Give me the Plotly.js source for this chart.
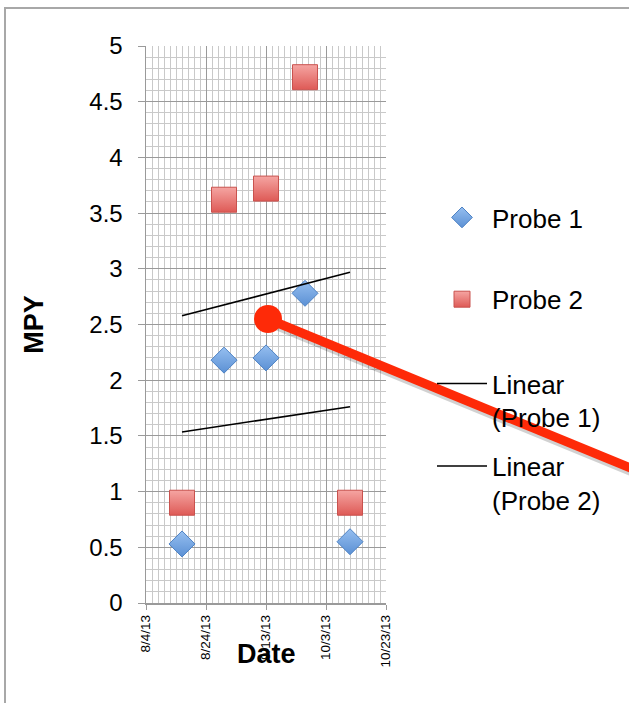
<!DOCTYPE html>
<html>
<head>
<meta charset="utf-8">
<script src="https://cdn.plot.ly/plotly-3.0.1.min.js"></script>
<style>
  html, body { margin: 0; padding: 0; background: #ffffff; }
  #chart { width: 629px; height: 703px; }
</style>
</head>
<body>
<div id="chart"></div>
<script>
// ---- data ----
const sampleDates = ['2013-08-16', '2013-08-30', '2013-09-13', '2013-09-26', '2013-10-11'];
const probe1 = [0.53, 2.18, 2.20, 2.78, 0.55];
const probe2 = [0.90, 3.62, 3.72, 4.72, 0.90];
const xTickVals = ['2013-08-04', '2013-08-24', '2013-09-13', '2013-10-03', '2013-10-23'];
const xTickText = ['8/4/13', '8/24/13', '9/13/13', '10/3/13', '10/23/13'];
const yTickVals = [0, 0.5, 1, 1.5, 2, 2.5, 3, 3.5, 4, 4.5, 5];
const yTickText = ['0', '0.5', '1', '1.5', '2', '2.5', '3', '3.5', '4', '4.5', '5'];
const seriesNames = ['Probe 1', 'Probe 2', 'Linear<br>(Probe 1)', 'Linear<br>(Probe 2)'];
const xTitle = 'Date';
const yTitle = 'MPY';

// ---- least-squares trendline (as the original chart's linear trendline) ----
function linearFit(dates, vals) {
  const xs = dates.map(d => new Date(d + 'T00:00:00Z').getTime());
  const n = xs.length;
  const mx = xs.reduce((a, b) => a + b, 0) / n;
  const my = vals.reduce((a, b) => a + b, 0) / n;
  let sxy = 0, sxx = 0;
  for (let i = 0; i < n; i++) { sxy += (xs[i] - mx) * (vals[i] - my); sxx += (xs[i] - mx) * (xs[i] - mx); }
  const slope = sxy / sxx;
  const ends = [dates[0], dates[n - 1]];
  return { x: ends, y: ends.map(d => my + slope * (new Date(d + 'T00:00:00Z').getTime() - mx)) };
}
const fit1 = linearFit(sampleDates, probe1);
const fit2 = linearFit(sampleDates, probe2);

// ---- layout geometry ----
const W = 629, H = 703, ML = 146, MR = 243, MT = 46, MB = 100;
const PW = W - ML - MR, PH = H - MT - MB;
const px = x => (x - ML) / PW;
const py = y => (H - MB - y) / PH;

const FONT = 'Liberation Sans, Arial, Helvetica, sans-serif';
const redCol = '#fe2a08';

const traces = [
  {
    type: 'scatter', mode: 'markers', name: seriesNames[0],
    x: sampleDates, y: probe1, legend: 'legend', legendgroup: 'a',
    marker: { symbol: 'diamond', size: 20, color: '#96bff0',
              gradient: { type: 'vertical', color: '#5b90d4' },
              line: { color: '#4d82c4', width: 1 } }
  },
  {
    type: 'scatter', mode: 'markers', name: seriesNames[1],
    x: sampleDates, y: probe2, legend: 'legend', legendgroup: 'b',
    marker: { symbol: 'square', size: 25, color: '#f5a5a2',
              gradient: { type: 'vertical', color: '#de5a56' },
              line: { color: '#c9524e', width: 1 } }
  },
  {
    type: 'scatter', mode: 'lines', name: seriesNames[2],
    x: fit1.x, y: fit1.y, legend: 'legend2', legendgroup: 'c',
    line: { color: '#000000', width: 1.5 }
  },
  {
    type: 'scatter', mode: 'lines', name: seriesNames[3],
    x: fit2.x, y: fit2.y, legend: 'legend2', legendgroup: 'd',
    line: { color: '#000000', width: 1.5 }
  }
];

const legendCommon = {
  xanchor: 'left', yanchor: 'top', traceorder: 'grouped',
  font: { family: FONT, size: 26, color: '#000000' },
  bgcolor: 'rgba(0,0,0,0)', borderwidth: 0, itemwidth: 50, valign: 'top'
};

const layout = {
  width: W, height: H,
  margin: { l: ML, r: MR, t: MT, b: MB, pad: 0 },
  paper_bgcolor: '#ffffff', plot_bgcolor: '#ffffff',
  font: { family: FONT, color: '#000000' },
  showlegend: true,
  legend: Object.assign({}, legendCommon, { x: px(432), y: py(194), tracegroupgap: 45 }),
  legend2: Object.assign({}, legendCommon, { x: px(432), y: py(360), tracegroupgap: 12 }),
  xaxis: {
    type: 'date',
    range: [xTickVals[0], xTickVals[xTickVals.length - 1]],
    tickmode: 'array', tickvals: xTickVals, ticktext: xTickText,
    tickangle: -90, tickfont: { family: FONT, size: 13.5, color: '#000000' },
    ticks: 'outside', ticklen: 5, tickcolor: '#9a9a9a',
    showline: true, linecolor: '#9a9a9a', linewidth: 1.5,
    showgrid: true, gridcolor: '#9a9a9a', gridwidth: 1,
    minor: { dtick: 2 * 86400000, tick0: xTickVals[0], showgrid: true, gridcolor: '#c9c9c9', gridwidth: 1 },
    zeroline: false, fixedrange: true
  },
  yaxis: {
    range: [0, 5],
    tickmode: 'array', tickvals: yTickVals, ticktext: yTickText,
    tickfont: { family: FONT, size: 24, color: '#000000' },
    ticks: 'outside', ticklen: 7, tickcolor: '#9a9a9a', ticklabelstandoff: 10,
    showline: true, linecolor: '#9a9a9a', linewidth: 1.5,
    showgrid: true, gridcolor: '#9a9a9a', gridwidth: 1,
    minor: { dtick: 0.1, showgrid: true, gridcolor: '#c9c9c9', gridwidth: 1 },
    zeroline: false, fixedrange: true,
    title: { text: '<b>' + yTitle + '</b>', standoff: 38, font: { family: FONT, size: 27, color: '#000000' } }
  },
  annotations: [
    // x-axis title sits over the rotated date labels, as in the reference
    { xref: 'paper', yref: 'paper', x: 0.5, y: py(654), xanchor: 'center', yanchor: 'middle',
      showarrow: false, text: '<b>' + xTitle + '</b>', font: { family: FONT, size: 27, color: '#000000' } }
  ],
  shapes: [
    // outer frame of the screenshot (left and top edges visible)
    { type: 'line', xref: 'paper', yref: 'paper', x0: px(5), x1: px(5), y0: py(7), y1: py(720),
      line: { color: '#a8a8a8', width: 2 } },
    { type: 'line', xref: 'paper', yref: 'paper', x0: px(4), x1: px(640), y0: py(8), y1: py(8),
      line: { color: '#a8a8a8', width: 2 } },
    // red pointer shadow
    { type: 'line', xref: 'paper', yref: 'paper', x0: px(270), y0: py(322), x1: px(642), y1: py(475),
      line: { color: 'rgba(0,0,0,0.18)', width: 11 } },
    // red pointer
    { type: 'line', xref: 'paper', yref: 'paper', x0: px(268), y0: py(319), x1: px(640), y1: py(472),
      line: { color: redCol, width: 9 } },
    { type: 'circle', xref: 'paper', yref: 'paper', x0: px(254), x1: px(282), y0: py(333), y1: py(305),
      fillcolor: redCol, line: { width: 0 } }
  ]
};

Plotly.newPlot('chart', traces, layout, { displayModeBar: false, staticPlot: true });
</script>
</body>
</html>
